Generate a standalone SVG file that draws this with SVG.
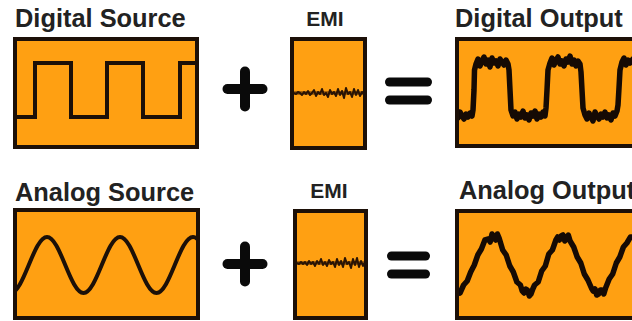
<svg xmlns="http://www.w3.org/2000/svg" width="632" height="321" viewBox="0 0 632 321">
<style>
.bg{fill:#ffffff}
.panel{fill:#FFA012;stroke:#1c1008;stroke-width:4}
.lbl{font-family:"Liberation Sans",Arial,sans-serif;font-weight:bold;font-size:25.4px;fill:#222222}
.emi{font-size:21px}
.sig{fill:none;stroke:#1c1008;stroke-width:4;stroke-linejoin:miter}
.noisy{fill:none;stroke:#150a04;stroke-width:5.5;stroke-linejoin:round;stroke-linecap:round}
.fuzz{fill:none;stroke:#2a1404;stroke-width:2;stroke-linejoin:round}
.band{fill:none;stroke:#6a3a08;stroke-width:3.5;opacity:0.75}
.op{stroke:#0a0a0a;stroke-linecap:round;fill:none}
</style>
<defs>
<clipPath id="c1"><rect x="17" y="41" width="178" height="104"/></clipPath>
<clipPath id="c2"><rect x="17" y="212" width="179" height="104"/></clipPath>
<clipPath id="c3"><rect x="459" y="41" width="180" height="103"/></clipPath>
<clipPath id="c4"><rect x="459" y="213" width="180" height="103"/></clipPath>
</defs>
<rect class="bg" width="632" height="321"/>

<g id="digital-source">
<text class="lbl" x="15" y="27">Digital Source</text>
<rect class="panel" x="15" y="39" width="182" height="108"/>
<path class="sig" clip-path="url(#c1)" d="M10,117 H35 V63 H71 V117 H107 V63 H143 V117 H180 V63 H205"/>
</g>

<g id="emi-top">
<text class="lbl emi" x="325" y="26" text-anchor="middle">EMI</text>
<rect class="panel" x="292" y="39" width="73" height="109"/>
<line class="band" x1="294" y1="93" x2="363" y2="93"/>
<polyline class="fuzz" points="294,93 296,94 298,92 300,93 302,95 304,92 306,94 308,91 310,95 312,93 314,90 316,96 318,92 320,94 322,89 324,95 326,93 328,97 330,90 332,94 334,92 336,96 338,89 340,95 342,91 344,98 346,88 348,94 350,92 352,97 354,89 356,95 358,90 360,96 362,92 363,94"/>
</g>

<g id="digital-output">
<text class="lbl" x="455" y="27">Digital Output</text>
<rect class="panel" x="457" y="39" width="200" height="107"/>
<polyline class="noisy" clip-path="url(#c3)" points="456,113 458,118 460,112 462,116 464,119 466,114 468,117 470,113 472,116 473,110 474,90 474.5,70 476,64 478,59 480,66 482,61 484,57 486,64 488,60 490,67 492,58 494,63 496,61 498,66 500,59 502,62 504,65 506,60 508,64 509,70 510,90 511,110 513,116 515,112 517,119 519,114 521,117 523,111 525,118 527,115 529,120 531,113 533,116 535,111 537,119 539,114 541,117 543,112 545,116 546,108 547,90 548,70 550,63 552,58 554,65 556,60 558,57 560,64 562,61 564,66 566,59 568,62 570,56 572,64 574,60 576,66 578,61 580,64 581,72 582,90 583,108 585,115 587,119 589,113 591,117 593,121 595,112 597,116 599,119 601,114 603,117 605,112 607,118 609,115 611,120 613,113 615,116 617,111 618,105 619,88 620,70 622,62 624,58 626,65 628,60 630,63 633,59"/>
</g>

<g id="analog-source">
<text class="lbl" x="15" y="201">Analog Source</text>
<rect class="panel" x="15" y="210" width="183" height="108"/>
<path class="sig" clip-path="url(#c2)" d="M10.5,293 C23.8,293 33.7,237 47,237 C60.3,237 70.2,293 83.5,293 C96.8,293 106.7,237 120,237 C133.3,237 143.2,293 156.5,293 C169.8,293 179.7,237 193,237 C206.3,237 216.2,293 229.5,293"/>
</g>

<g id="emi-bottom">
<text class="lbl emi" x="329" y="198" text-anchor="middle">EMI</text>
<rect class="panel" x="295" y="211" width="71" height="107"/>
<line class="band" x1="297" y1="263" x2="364" y2="263"/>
<polyline class="fuzz" points="297,263 299,264 301,262 303,264 305,262 307,265 309,261 311,264 313,262 315,266 317,261 319,264 321,259 323,265 325,262 327,266 329,260 331,264 333,262 335,267 337,259 339,265 341,261 343,267 345,258 347,264 349,262 351,268 353,259 355,265 357,258 359,267 361,261 363,266 364,263"/>
</g>

<g id="analog-output">
<text class="lbl" x="459" y="199">Analog Output</text>
<rect class="panel" x="457" y="211" width="200" height="107"/>
<polyline class="noisy" clip-path="url(#c4)" points="456.5,290 460,293 463.6,285 467.2,281 470.7,272 474.3,265 477.8,255 481.4,249 484.9,240 488.5,239 490.2,242 492,234 493.8,238 495.6,240 497.4,234 499.1,238 502.7,250 506.2,255 509.8,266 513.3,272 516.9,282 520.4,285 522.2,291 524,293 525.8,289 527.5,290 529.3,296 531,294 532.8,289 534.6,285 538.2,282 541.7,271 545.3,266 548.8,254 552.4,250 555.9,240 557.7,237 559.5,240 561.2,236 563,235 564.8,241 566.6,239 568.3,235 570.1,241 573.7,247 577.2,257 580.8,263 584.3,274 587.9,280 591.4,288 593.2,291 595,289 596.7,295 598.5,294 600.3,290 602,290 603.8,294 605.6,288 609.2,279 612.7,274 616.3,263 619.8,257 623.4,247 626.9,243 630.5,237 634,237"/>
</g>

<g id="connectors">
<line class="op" x1="227.5" y1="89" x2="262.5" y2="89" stroke-width="10"/>
<line class="op" x1="245" y1="71.5" x2="245" y2="106.5" stroke-width="10"/>
<line class="op" x1="389.5" y1="82" x2="427.5" y2="82" stroke-width="9"/>
<line class="op" x1="389.5" y1="100" x2="427.5" y2="100" stroke-width="9"/>
<line class="op" x1="227.5" y1="264" x2="262.5" y2="264" stroke-width="10"/>
<line class="op" x1="245" y1="246.5" x2="245" y2="281.5" stroke-width="10"/>
<line class="op" x1="391.5" y1="256" x2="425.5" y2="256" stroke-width="9"/>
<line class="op" x1="391.5" y1="274" x2="425.5" y2="274" stroke-width="9"/>
</g>
</svg>
